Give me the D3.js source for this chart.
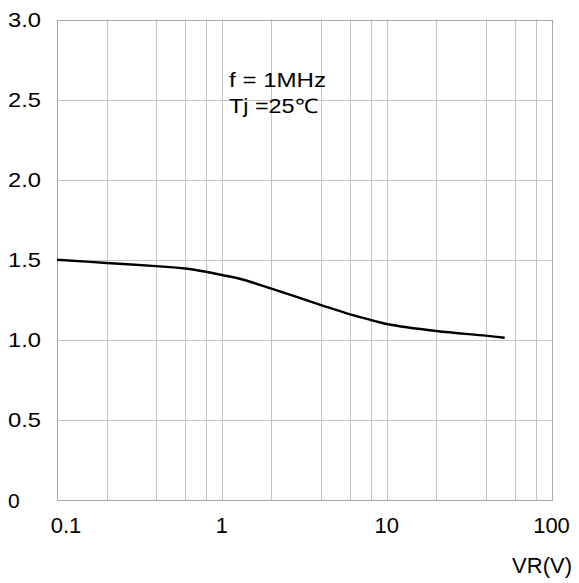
<!DOCTYPE html>
<html>
<head>
<meta charset="utf-8">
<script src="https://cdn.jsdelivr.net/npm/d3@7"></script>
<style>
  body { margin: 0; background: #fff; }
  text { font-family: "Liberation Sans", Arial, sans-serif; fill: #000; }
</style>
</head>
<body>
<svg id="chart"></svg>
<script>
const width = 579;
const height = 583;

// curve
const vr = [0.1, 0.2, 0.4, 0.6, 0.8, 1, 1.3, 2, 4, 6, 8, 10, 20, 40, 52];
const cj = [1.50, 1.48, 1.46, 1.445, 1.425, 1.405, 1.38, 1.32, 1.217, 1.159, 1.124, 1.099, 1.055, 1.026, 1.013];

const xGrid = [0.1, 0.2, 0.4, 0.6, 0.8, 1, 2, 4, 6, 8, 10, 20, 40, 60, 80, 100];
const xLabels = [0.1, 1, 10, 100];
const yTicks = [0, 0.5, 1.0, 1.5, 2.0, 2.5, 3.0];

const svg = d3.select("#chart")
  .attr("width", width)
  .attr("height", height);

const x = d3.scaleLog().domain([0.1, 100]).range([57, 551.5]);
const y = d3.scaleLinear().domain([0, 3]).range([500, 19.5]);

// grid
svg.append("g")
  .attr("stroke", "#c4c4c4")
  .attr("stroke-width", 1)
  .selectAll("line")
  .data(xGrid)
  .join("line")
    .attr("x1", d => Math.round(x(d)) + 0.5)
    .attr("x2", d => Math.round(x(d)) + 0.5)
    .attr("y1", y(3))
    .attr("y2", y(0));

svg.append("g")
  .attr("stroke", "#c4c4c4")
  .attr("stroke-width", 1)
  .selectAll("line")
  .data(yTicks)
  .join("line")
    .attr("x1", x(0.1))
    .attr("x2", x(100))
    .attr("y1", d => Math.round(y(d)) + 0.5)
    .attr("y2", d => Math.round(y(d)) + 0.5);

// frame
svg.append("rect")
  .attr("x", Math.round(x(0.1)) + 0.5)
  .attr("y", Math.round(y(3)) + 0.5)
  .attr("width", Math.round(x(100)) - Math.round(x(0.1)))
  .attr("height", Math.round(y(0)) - Math.round(y(3)))
  .attr("fill", "none")
  .attr("stroke", "#a8a8a8");

// y labels
svg.append("g")
  .selectAll("text")
  .data(yTicks)
  .join("text")
    .attr("x", 8)
    .attr("y", d => y(d))
    .attr("dy", "0.36em")
    .attr("font-size", 21)
    .attr("textLength", d => d === 0 ? null : 33)
    .attr("lengthAdjust", "spacingAndGlyphs")
    .text(d => d === 0 ? "0" : d3.format(".1f")(d));

// x labels
svg.append("g")
  .selectAll("text")
  .data(xLabels)
  .join("text")
    .attr("x", d => d === 0.1 ? x(d) + 9 : x(d))
    .attr("y", 533)
    .attr("text-anchor", "middle")
    .attr("font-size", 22)
    .text(d => d);

svg.append("text")
  .attr("x", 572)
  .attr("y", 573)
  .attr("text-anchor", "end")
  .attr("font-size", 22)
  .text("VR(V)");

// conditions
svg.append("text")
  .attr("x", 229)
  .attr("y", 86.5)
  .attr("font-size", 20)
  .attr("textLength", 97)
  .attr("lengthAdjust", "spacingAndGlyphs")
  .text("f = 1MHz");

svg.append("text")
  .attr("x", 229)
  .attr("y", 113)
  .attr("font-size", 20)
  .attr("textLength", 89)
  .attr("lengthAdjust", "spacingAndGlyphs")
  .text("Tj =25\u2103");

// curve
const line = d3.line()
  .x(d => x(d[0]))
  .y(d => y(d[1]))
  .curve(d3.curveCatmullRom.alpha(0.5));

svg.append("path")
  .datum(d3.zip(vr, cj))
  .attr("fill", "none")
  .attr("stroke", "#000")
  .attr("stroke-width", 2.4)
  .attr("d", line);
</script>
</body>
</html>
